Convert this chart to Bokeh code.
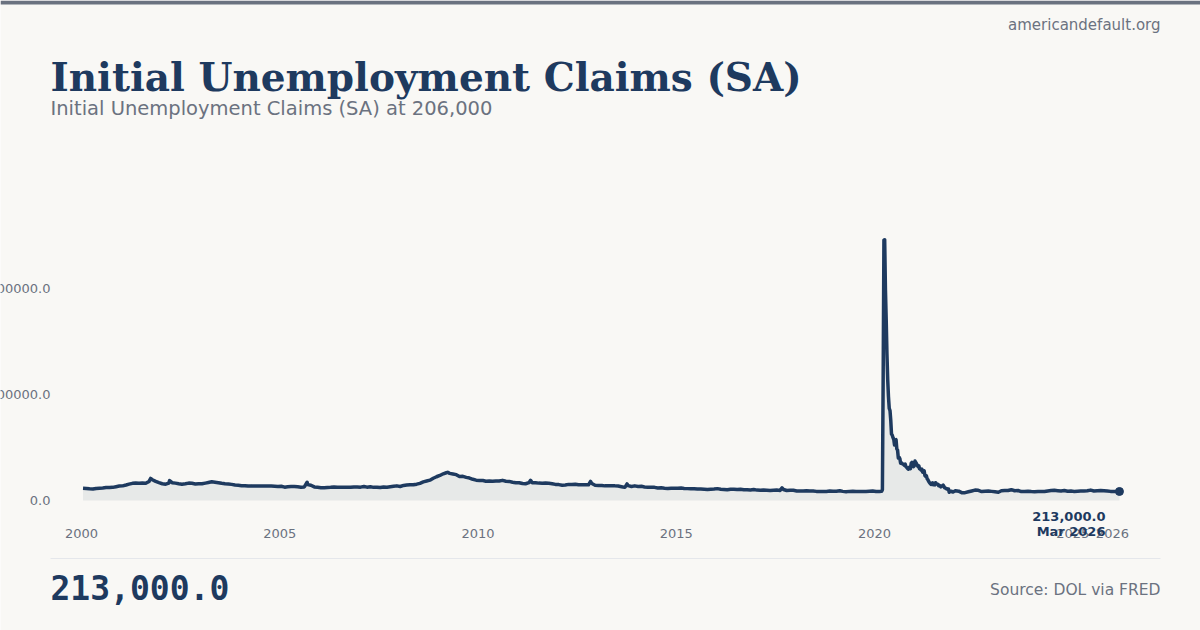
import pandas as pd
from bokeh.plotting import figure
from bokeh.models import Range1d, Label, BoxAnnotation, ColumnDataSource
from bokeh.embed import file_html
from bokeh.resources import INLINE

# ---------------- data (thousands of claims) ----------------
# monthly averages, Jan 2000 .. Dec 2004
monthly_2000_2004 = [
    290, 285, 275, 270, 285, 290, 295, 305, 305, 310, 325, 340,
    345, 365, 385, 405, 410, 405, 410, 405, 450, 490, 450, 420,
    395, 385, 410, 420, 410, 395, 385, 395, 410, 405, 390, 395,
    395, 410, 425, 440, 430, 420, 405, 395, 390, 380, 365, 360,
    350, 350, 340, 345, 340, 340, 340, 340, 340, 340, 335, 330,
]
# Jan 2005 .. Dec 2009
monthly_2005_2009 = [
    335, 315, 325, 330, 330, 325, 315, 320, 375, 360, 320, 310,
    300, 300, 305, 310, 320, 310, 315, 315, 315, 310, 320, 320,
    315, 330, 315, 325, 310, 315, 305, 320, 315, 325, 335, 345,
    330, 355, 365, 370, 370, 385, 405, 440, 460, 480, 525, 560,
    590, 630, 655, 640, 625, 610, 565, 570, 545, 530, 500, 480,
]
# Jan 2010 .. Dec 2014
monthly_2010_2014 = [
    470, 470, 455, 460, 455, 460, 460, 475, 455, 450, 430, 420,
    420, 400, 395, 420, 420, 420, 410, 405, 410, 405, 395, 380,
    375, 360, 365, 380, 375, 385, 370, 370, 370, 370, 400, 360,
    355, 355, 345, 345, 345, 345, 340, 325, 310, 350, 330, 345,
    330, 335, 320, 315, 310, 310, 295, 300, 290, 285, 290, 290,
]
# Jan 2015 .. Feb 2020
monthly_2015_2020 = [
    290, 295, 285, 280, 275, 275, 270, 272, 268, 262, 268, 272,
    280, 265, 260, 252, 265, 265, 258, 263, 252, 255, 250, 258,
    245, 240, 245, 240, 235, 242, 245, 238, 260, 235, 240, 240,
    225, 225, 225, 228, 222, 225, 215, 212, 210, 212, 222, 220,
    220, 230, 215, 205, 215, 220, 212, 212, 212, 215, 220, 225,
    212, 212,
]
# weekly, week ending 2020-03-07 .. 2021-12-25
weekly_2020_2021 = [
    217, 256, 2914, 6137, 6149, 4971, 4267, 3446, 2849, 2446, 2174, 2123,
    1897, 1566, 1540, 1482, 1437, 1311, 1422, 1435, 1217, 1186, 1000, 1020,
    990, 880, 890, 870, 860, 850, 830, 860, 800, 780, 760, 740,
    760, 790, 750, 880, 900, 840, 800,
    820, 930, 900, 870, 830, 800, 820, 750, 740, 720, 740, 670,
    690, 700, 590, 570, 580, 510, 490, 450, 420, 400, 380, 410,
    415, 370, 380, 370, 420, 400, 390, 380, 350, 360, 345, 320,
    340, 350, 365, 330, 300, 295, 280, 270, 265, 270, 195, 220,
    215, 220, 205, 200,
]
# monthly, Jan 2022 .. Feb 2026
monthly_2022_2026 = [
    230, 220, 185, 185, 205, 225, 245, 240, 210, 220, 225, 215,
    205, 195, 230, 235, 235, 255, 230, 235, 210, 210, 220, 210,
    205, 210, 212, 212, 225, 235, 240, 232, 225, 235, 218, 222,
    215, 220, 225, 225, 230, 245, 225, 232, 235, 230, 225, 215,
    210, 215,
]
# single-week spikes
spike_dates = ["2001-09-29", "2002-03-23", "2005-09-10", "2009-03-28",
               "2011-04-30", "2012-11-03", "2013-10-05", "2017-09-02"]
spike_values = [520, 470, 430, 665, 475, 450, 390, 298]
# latest reading
last_date = "2026-03-07"
last_value = 213

y_ticks = [0, 2500000, 5000000]
x_ticks = [2000, 2005, 2010, 2015, 2020, 2025, 2026]

# ---------------- assemble series ----------------
def monthly(start, vals):
    d = pd.date_range(start, periods=len(vals), freq="MS") + pd.Timedelta(days=14)
    return list(d), list(vals)

parts = [
    monthly("2000-01-01", monthly_2000_2004),
    monthly("2005-01-01", monthly_2005_2009),
    monthly("2010-01-01", monthly_2010_2014),
    monthly("2015-01-01", monthly_2015_2020),
    (list(pd.date_range("2020-03-07", periods=len(weekly_2020_2021), freq="7D")), weekly_2020_2021),
    monthly("2022-01-01", monthly_2022_2026),
    (list(pd.to_datetime(spike_dates)), spike_values),
    ([pd.Timestamp(last_date)], [last_value]),
]
dates, vals = [], []
for d, v in parts:
    dates += d
    vals += v
df = pd.DataFrame({"date": dates, "v": vals}).sort_values("date")
dt = pd.DatetimeIndex(df["date"])
days_in_year = pd.Series(dt.is_leap_year).map({True: 366, False: 365}).values
df["x"] = dt.year + (dt.dayofyear - 1) / days_in_year
df["y"] = df["v"] * 1000.0
src = ColumnDataSource(df[["x", "y"]])

# ---------------- styling ----------------
BG = "#f9f8f5"
NAVY = "#1e3a5f"
GREY = "#6b7280"
SANS = "DejaVu Sans"
W, H = 1200, 630

# the plot frame fills the whole canvas; scales place 2000 at x=81 and 0 at y=500
px_per_year = 39.65
px_per_unit = 42.4 / 1e6
x0 = 2000 - 81 / px_per_year
x1 = x0 + W / px_per_year
y0 = -(H - 500) / px_per_unit
y1 = 500 / px_per_unit

p = figure(width=W, height=H, output_backend="svg", toolbar_location=None,
           x_range=Range1d(x0, x1), y_range=Range1d(y0, y1),
           min_border=0, min_border_left=0, min_border_right=0,
           min_border_top=0, min_border_bottom=0,
           x_axis_location=None, y_axis_location=None,
           background_fill_color=BG, border_fill_color=BG, outline_line_color=None)
p.styles = {"position": "absolute", "left": "0px", "top": "0px"}
p.grid.visible = False

p.varea(x="x", y1=0, y2="y", source=src, fill_color=NAVY, fill_alpha=0.08)
p.line(x="x", y="y", source=src, line_color=NAVY, line_width=3.5, line_join="round")
last_x = float(df["x"].iloc[-1])
p.scatter(x=[last_x], y=[last_value * 1000.0], size=8, color=NAVY)

def sy(page_y):
    """screen y (measured up from the frame bottom) for a page row."""
    return H - page_y

# x tick labels
for t in x_ticks:
    p.add_layout(Label(x=t, y=sy(532.5), x_units="data", y_units="screen", text=str(t),
                       text_align="center", text_baseline="alphabetic",
                       text_font=SANS, text_font_size="13px", text_color=GREY))
# y tick labels (overflowing the left edge like the reference)
for t in y_ticks:
    p.add_layout(Label(x=50, y=t, x_units="screen", y_units="data", text=f"{t:.1f}",
                       text_align="right", text_baseline="middle",
                       text_font=SANS, text_font_size="13px", text_color=GREY))

# end-point annotation
p.add_layout(Label(x=last_x, y=sy(515.5), x_units="data", y_units="screen", x_offset=-14,
                   text=f"{last_value * 1000:,.1f}", text_align="right",
                   text_baseline="alphabetic", text_font=SANS, text_font_size="13px",
                   text_font_style="bold", text_color=NAVY))
p.add_layout(Label(x=last_x, y=sy(530.5), x_units="data", y_units="screen", x_offset=-14,
                   text="Mar 2026", text_align="right",
                   text_baseline="alphabetic", text_font=SANS, text_font_size="13px",
                   text_font_style="bold", text_color=NAVY))

# header / footer texts
p.add_layout(Label(x=1160, y=sy(24), x_units="screen", y_units="screen",
                   text="americandefault.org", text_align="right", text_baseline="alphabetic",
                   text_font=SANS, text_font_size="15px", text_color=GREY))
p.add_layout(Label(x=50, y=sy(76), x_units="screen", y_units="screen",
                   text="Initial Unemployment Claims (SA)", text_align="left",
                   text_baseline="alphabetic", text_font="DejaVu Serif",
                   text_font_size="39px", text_font_style="bold", text_color=NAVY))
p.add_layout(Label(x=50, y=sy(107.5), x_units="screen", y_units="screen",
                   text="Initial Unemployment Claims (SA) at 206,000", text_align="left",
                   text_baseline="alphabetic", text_font=SANS,
                   text_font_size="19.5px", text_color=GREY))
p.add_layout(Label(x=50, y=sy(587), x_units="screen", y_units="screen",
                   text=f"{last_value * 1000:,.1f}", text_align="left",
                   text_baseline="alphabetic", text_font="DejaVu Sans Mono",
                   text_font_size="33px", text_font_style="bold", text_color=NAVY))
p.add_layout(Label(x=1160, y=sy(589), x_units="screen", y_units="screen",
                   text="Source: DOL via FRED", text_align="right",
                   text_baseline="alphabetic", text_font=SANS,
                   text_font_size="15.5px", text_color=GREY))

# top bar and separator rule (canvas pixel units)
p.add_layout(BoxAnnotation(left=0, right=W, top=0, bottom=4,
                           left_units="canvas", right_units="canvas",
                           top_units="canvas", bottom_units="canvas",
                           fill_color=GREY, fill_alpha=1, line_color=None))
p.add_layout(BoxAnnotation(left=50, right=1160, top=557.5, bottom=558.5,
                           left_units="canvas", right_units="canvas",
                           top_units="canvas", bottom_units="canvas",
                           fill_color="#e5e7eb", fill_alpha=1, line_color=None))

open("out.html", "w").write(file_html(p, INLINE))
